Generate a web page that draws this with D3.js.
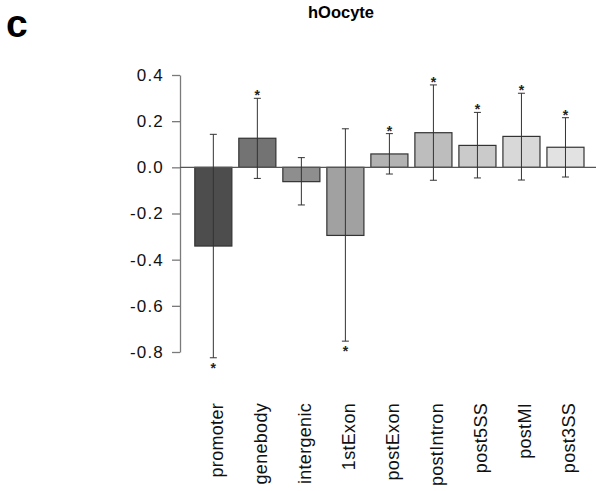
<!DOCTYPE html>
<html>
<head>
<meta charset="utf-8">
<script src="https://cdn.jsdelivr.net/npm/d3@7/dist/d3.min.js"></script>
<style>
  html, body { margin: 0; padding: 0; background: #fff; }
  svg { display: block; font-family: "Liberation Sans", Arial, Helvetica, sans-serif; }
</style>
</head>
<body>
<svg id="chart" width="596" height="491"></svg>
<script>
// Region categories along the x axis
const categories = ["promoter", "genebody", "intergenic", "1stExon", "postExon",
                    "postIntron", "post5SS", "postMI", "post3SS"];
// Mean value for each category
const means   = [-0.341, 0.126, -0.062, -0.295, 0.058, 0.150, 0.095, 0.134, 0.087];
// Lower and upper ends of the error bars
const errLow  = [-0.825, -0.048, -0.163, -0.753, -0.029, -0.056, -0.046, -0.055, -0.042];
const errHigh = [ 0.143,  0.299,  0.042,  0.167,  0.146,  0.357,  0.238,  0.321,  0.215];
// Significance markers
const significant = [true, true, false, true, true, true, true, true, true];
// Y axis ticks
const yTickValues = [0.4, 0.2, 0.0, -0.2, -0.4, -0.6, -0.8];
const yTickLabels = ["0.4", "0.2", "0.0", "-0.2", "-0.4", "-0.6", "-0.8"];

// Grey ramp for the bars
const greys = ["#4d4d4d", "#737373", "#8e8e8e", "#a1a1a1", "#b2b2b2",
               "#bdbdbd", "#cacaca", "#d8d8d8", "#e2e2e2"];

const rows = categories.map((c, i) => ({
  cat: c, mean: means[i], lo: errLow[i], hi: errHigh[i], sig: significant[i]
}));

const svg = d3.select("#chart");

const x = d3.scaleBand()
  .domain(categories)
  .range([194.8, 584])
  .paddingInner(0.158)
  .paddingOuter(0);

const y = d3.scaleLinear()
  .domain([-0.8, 0.4])
  .range([352, 75]);

const fill = d3.scaleOrdinal().domain(categories).range(greys);

// Panel letter and title
svg.append("text")
  .attr("x", 6).attr("y", 37)
  .attr("font-size", 39).attr("font-weight", "bold")
  .text("c");

svg.append("text")
  .attr("x", 341).attr("y", 18)
  .attr("text-anchor", "middle")
  .attr("font-size", 16.5).attr("font-weight", "bold")
  .text("hOocyte");

// Y axis
const yAxis = d3.axisLeft(y)
  .tickValues(yTickValues)
  .tickFormat((d, i) => yTickLabels[i])
  .tickSizeInner(8)
  .tickSizeOuter(0)
  .tickPadding(8);

const gy = svg.append("g")
  .attr("transform", "translate(180,0)")
  .call(yAxis);
gy.select(".domain").attr("stroke", "#7a7a7a").attr("stroke-width", 1.3);
gy.selectAll(".tick line").attr("stroke", "#7a7a7a").attr("stroke-width", 1.3);
gy.selectAll(".tick text")
  .attr("font-size", 17)
  .attr("letter-spacing", 1.2)
  .attr("fill", "#111")
  .attr("font-family", "'Liberation Sans', Arial, Helvetica, sans-serif");

// Bars
svg.append("g").selectAll("rect")
  .data(rows)
  .join("rect")
  .attr("x", d => x(d.cat))
  .attr("width", x.bandwidth())
  .attr("y", d => y(Math.max(0, d.mean)))
  .attr("height", d => Math.abs(y(d.mean) - y(0)))
  .attr("fill", d => fill(d.cat))
  .attr("stroke", "#333")
  .attr("stroke-width", 1.2);

// Zero reference line
svg.append("line")
  .attr("x1", 180).attr("x2", 596)
  .attr("y1", y(0)).attr("y2", y(0))
  .attr("stroke", "#555").attr("stroke-width", 1.1);

// Error bars
const capHalf = 3.5;
const eb = svg.append("g").selectAll("g")
  .data(rows)
  .join("g")
  .attr("stroke", "#333")
  .attr("stroke-width", 1);
eb.append("line")
  .attr("x1", d => x(d.cat) + x.bandwidth() / 2)
  .attr("x2", d => x(d.cat) + x.bandwidth() / 2)
  .attr("y1", d => y(d.hi)).attr("y2", d => y(d.lo));
eb.append("line")
  .attr("x1", d => x(d.cat) + x.bandwidth() / 2 - capHalf)
  .attr("x2", d => x(d.cat) + x.bandwidth() / 2 + capHalf)
  .attr("y1", d => y(d.hi)).attr("y2", d => y(d.hi));
eb.append("line")
  .attr("x1", d => x(d.cat) + x.bandwidth() / 2 - capHalf)
  .attr("x2", d => x(d.cat) + x.bandwidth() / 2 + capHalf)
  .attr("y1", d => y(d.lo)).attr("y2", d => y(d.lo));

// Significance stars: above positive bars, below negative bars
svg.append("g").selectAll("text")
  .data(rows.filter(d => d.sig))
  .join("text")
  .attr("x", d => x(d.cat) + x.bandwidth() / 2)
  .attr("y", d => d.mean >= 0 ? y(d.hi) + 2 : y(d.lo) + 15)
  .attr("text-anchor", "middle")
  .attr("font-size", 14)
  .attr("font-weight", "bold")
  .attr("fill", "#222")
  .text("*");

// Rotated category labels
svg.append("g").selectAll("text")
  .data(categories)
  .join("text")
  .attr("transform", d => `translate(${x(d) + x.bandwidth() / 2 + 10},403) rotate(-90)`)
  .attr("text-anchor", "end")
  .attr("font-size", 18)
  .attr("letter-spacing", 0.3)
  .attr("fill", "#111")
  .text(d => d);
</script>
</body>
</html>
